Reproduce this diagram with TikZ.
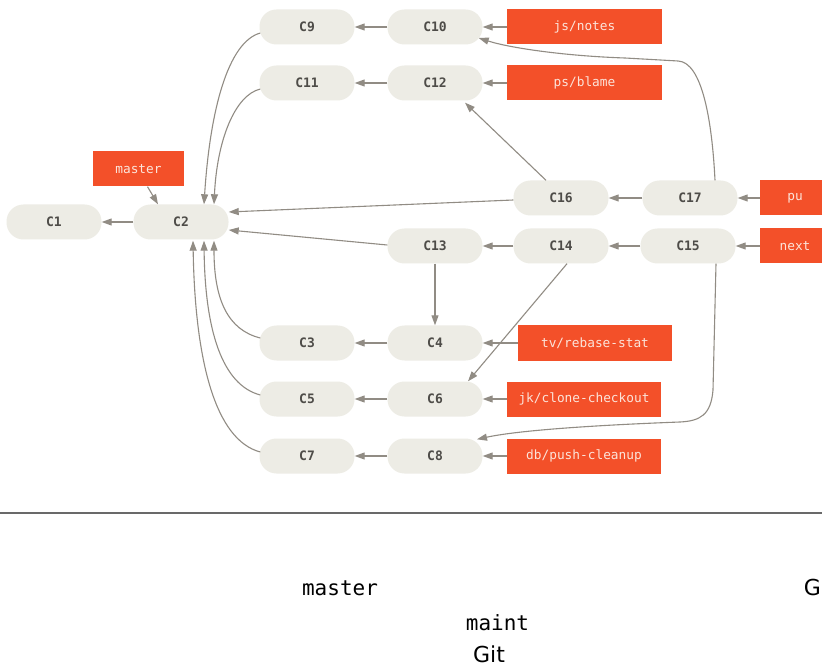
\documentclass[tikz,border=0pt]{standalone}
\usepackage{fontspec}
\setmainfont{DejaVu Sans}
\setmonofont{DejaVu Sans Mono}
\usetikzlibrary{arrows.meta,calc}
\definecolor{cfill}{RGB}{237,236,229}
\definecolor{ctext}{RGB}{78,76,72}
\definecolor{bfill}{RGB}{243,80,41}
\definecolor{btext}{RGB}{252,228,218}
\definecolor{agray}{RGB}{145,140,132}
\definecolor{rulegray}{RGB}{105,105,105}
\tikzset{
  commit/.style={rounded corners=17pt, fill=cfill, minimum width=95pt, minimum height=35pt, inner sep=0pt,
    font=\ttfamily\bfseries\fontsize{13}{15}\selectfont, text=ctext},
  branch/.style={fill=bfill, minimum height=35pt, inner sep=0pt,
    font=\ttfamily\fontsize{12.8}{15}\selectfont, text=btext},
  arr/.style={draw=agray, line width=1.1pt, -{Triangle[length=10pt,width=7pt]}},
  bigmono/.style={font=\ttfamily\fontsize{21}{24}\selectfont, text=black, inner sep=0pt},
  bigsans/.style={font=\fontsize{22}{25}\selectfont, text=black, inner sep=0pt}
}
\begin{document}
\begin{tikzpicture}[x=1pt,y=-1pt]
\clip (0,0) rectangle (822,668);
\fill[white] (0,0) rectangle (822,668);
% commits
\node[commit] (C1) at (54,222) {C1};
\node[commit] (C2) at (181,222) {C2};
\node[commit] (C9) at (307,27) {C9};
\node[commit] (C10) at (435,27) {C10};
\node[commit] (C11) at (307,83) {C11};
\node[commit] (C12) at (435,83) {C12};
\node[commit] (C16) at (561,198) {C16};
\node[commit] (C17) at (690,198) {C17};
\node[commit] (C13) at (435,246) {C13};
\node[commit] (C14) at (561,246) {C14};
\node[commit] (C15) at (688,246) {C15};
\node[commit] (C3) at (307,343) {C3};
\node[commit] (C4) at (435,343) {C4};
\node[commit] (C5) at (307,399) {C5};
\node[commit] (C6) at (435,399) {C6};
\node[commit] (C7) at (307,456) {C7};
\node[commit] (C8) at (435,456) {C8};
% branches
\node[branch, minimum width=155pt] (jsnotes) at (584.5,27) {js/notes};
\node[branch, minimum width=155pt] (psblame) at (584.5,83) {ps/blame};
\node[branch, minimum width=91pt] (master) at (138.5,169) {master};
\node[branch, minimum width=70pt] (pu) at (795,198) {pu};
\node[branch, minimum width=70pt] (next) at (795,246) {next};
\node[branch, minimum width=154pt] (tv) at (595,343) {tv/rebase-stat};
\node[branch, minimum width=154pt] (jk) at (584,399) {jk/clone-checkout};
\node[branch, minimum width=154pt] (db) at (584,456) {db/push-cleanup};
% horizontal arrows
\draw[arr] (C10.west) -- (C9.east);
\draw[arr] (jsnotes.west) -- (C10.east);
\draw[arr] (C12.west) -- (C11.east);
\draw[arr] (psblame.west) -- (C12.east);
\draw[arr] (C2.west) -- (C1.east);
\draw[arr] (C17.west) -- (C16.east);
\draw[arr] (pu.west) -- (C17.east);
\draw[arr] (C15.west) -- (C14.east);
\draw[arr] (C14.west) -- (C13.east);
\draw[arr] (next.west) -- (C15.east);
\draw[arr] (C4.west) -- (C3.east);
\draw[arr] (tv.west) -- (C4.east);
\draw[arr] (C6.west) -- (C5.east);
\draw[arr] (jk.west) -- (C6.east);
\draw[arr] (C8.west) -- (C7.east);
\draw[arr] (db.west) -- (C8.east);
% other arrows
\draw[arr] ($(master.south)+(9,0)$) -- ($(C2.north)+(-23,0)$);
\draw[arr] ($(C9.west)+(1,6)$) .. controls (228,42) and (210,110) .. ($(C2.north)+(23,0)$);
\draw[arr] ($(C11.west)+(1,6)$) .. controls (235,95) and (217,140) .. ($(C2.north)+(33,0)$);
\draw[arr] ($(C3.west)+(1,-5)$) .. controls (228,330) and (214,300) .. ($(C2.south)+(33,1)$);
\draw[arr] ($(C5.west)+(1,-4)$) .. controls (222,385) and (205,330) .. ($(C2.south)+(23,1)$);
\draw[arr] ($(C7.west)+(1,-4)$) .. controls (215,440) and (195,360) .. ($(C2.south)+(12,1)$);
\draw[arr] ($(C16.west)+(0,2)$) -- ($(C2.east)+(0,-10)$);
\draw[arr] ($(C13.west)+(0,-1)$) -- ($(C2.east)+(0,8)$);
\draw[arr] ($(C16.north)+(-15,0)$) -- ($(C12.south)+(30,2)$);
\draw[arr] ($(C17.north)+(25,0)$) .. controls (712,120) and (702,62) .. (678,61)
   -- (625,58) .. controls (565,56) and (510,48) .. ($(C10.east)+(-4,11)$);
\draw[arr] (C13.south) -- (C4.north);
\draw[arr] ($(C14.south)+(6,0)$) -- ($(C6.north)+(33,0)$);
\draw[arr] ($(C15.south)+(28,0)$) -- (713,390) .. controls (711,415) and (700,421) .. (680,422)
   .. controls (600,425) and (520,430) .. ($(C8.north)+(42,1)$);
% separator and text below
\coordinate (ruleL) at (0,513);
\coordinate (ruleR) at (822,513);
\draw[rulegray, line width=2pt] (ruleL) -- (ruleR);
\node[bigmono, anchor=base] (tmaster) at (340,595) {master};
\node[bigmono, anchor=base] (tmaint) at (497.5,630) {maint};
\node[bigsans, anchor=base] (tgit) at (489,662) {Git};
\node[bigsans, anchor=base east] (tg) at (821,595) {G};
\end{tikzpicture}
\end{document}
